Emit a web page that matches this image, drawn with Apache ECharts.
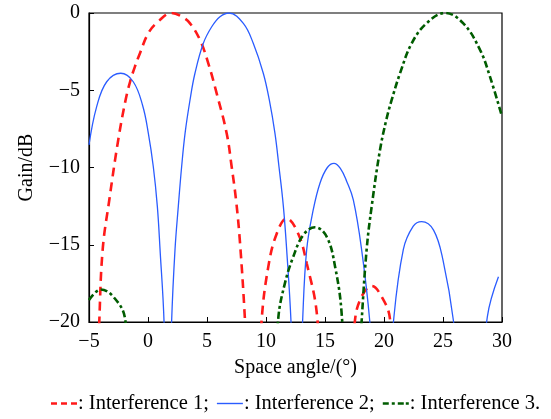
<!DOCTYPE html>
<html>
<head>
<meta charset="utf-8">
<script src="https://cdn.jsdelivr.net/npm/echarts@6/dist/echarts.min.js"></script>
<style>
  html, body { margin: 0; padding: 0; background: #fff; }
  #chart { width: 551px; height: 419px; }
</style>
</head>
<body>
<div id="chart"></div>
<script>
// [space angle (deg), gain (dB)]; values below -20 are clipped by the axis
const interference1 = [
  [-4.5, -28], [-4.13, -20], [-3.84, -15.3], [-3.28, -12.1], [-2.52, -8.2],
  [-1.89, -5.6], [-1.5, -4.4], [-1.1, -3.45], [-0.68, -2.6], [0.03, -1.3],
  [0.87, -0.55], [2.0, 0], [2.9, -0.25], [3.56, -0.67], [4.41, -1.75],
  [5.11, -3.26], [5.82, -5.2], [6.67, -7.8], [7.09, -9.95], [7.46, -12.1],
  [7.8, -14.9], [8.22, -19.9], [8.9, -30], [9.63, -19.9], [10.2, -16.4],
  [10.9, -14.3], [11.75, -13.3], [12.74, -14.3], [13.45, -16.2], [14.3, -19.4],
  [14.8, -26], [16.0, -35], [17.0, -26], [17.54, -19.9], [18.1, -18.36],
  [18.96, -17.67], [19.8, -18.36], [20.5, -19.76], [21.0, -26]
];
const interference2 = [
  [-5, -8.54], [-4.35, -6.06], [-3.5, -4.45], [-2.31, -3.9], [-1.25, -4.45],
  [-0.45, -6.0], [0.03, -7.79], [0.45, -9.95], [0.79, -12.5], [1.02, -15.3],
  [1.36, -20], [1.65, -30], [2.0, -20], [2.29, -15.3], [2.57, -12.5], [2.85, -9.95],
  [3.14, -7.79], [3.56, -5.63], [3.98, -3.9], [4.69, -1.96], [5.4, -0.89],
  [6.1, -0.24], [6.86, 0], [8.08, -0.67], [8.92, -1.96], [9.77, -3.9],
  [10.28, -5.63], [10.76, -7.79], [11.1, -9.95], [11.47, -12.5], [11.75, -15.3],
  [12.12, -20], [12.6, -30], [13.1, -20], [13.45, -15.3], [14.0, -12.75],
  [14.58, -11.0], [15.2, -10.0], [15.76, -9.73], [16.3, -10.05], [16.84, -10.9],
  [17.4, -12.1], [18.1, -15.3],
  [18.8, -20], [19.8, -30], [20.8, -20], [21.64, -15.3], [22.48, -13.8],
  [23.19, -13.5], [24.2, -14.05], [25.0, -16.0], [25.9, -20], [27.3, -30],
  [28.76, -19.65], [29.7, -17.07]
];
const interference3 = [
  [-5, -18.58], [-4.0, -17.9], [-2.94, -18.36], [-1.95, -19.76], [-1.4, -26],
  [4.5, '-'],
  [10.6, -26], [11.04, -19.76], [11.6, -17.5], [12.3, -15.8], [13.16, -14.37],
  [14.15, -13.87], [15.14, -14.48], [15.85, -16.4], [16.41, -19.44], [16.8, -26],
  [17.3, -30], [18.1, -20], [18.53, -15.3], [18.96, -12.5], [19.66, -8.87],
  [20.2, -6.9], [20.65, -5.63], [21.36, -3.9], [22.35, -1.96], [23.6, -0.67],
  [25.17, 0], [26.72, -0.67], [28.14, -2.39], [28.98, -4.12], [30, -6.7]
];
const seriesNames = ["Interference 1", "Interference 2", "Interference 3"];

const font = "'Times New Roman', 'Liberation Serif', serif";
const minus = (v) => String(v).replace("-", "\u2212");

// legend icons drawn as filled dash shapes (dashed / solid / dash-dot)
const icons = [
  "path://M0,0h6v2.4h-6zM10,0h6v2.4h-6zM20,0h6v2.4h-6z",
  "path://M0,0h26v1.4h-26z",
  "path://M0,0h6v2.4h-6zM9,0h3v2.4h-3zM15,0h6v2.4h-6zM23,0h3v2.4h-3z"
];

let chart = echarts.init(document.getElementById("chart"));
let option = {
  animation: false,
  textStyle: { fontFamily: font, color: "#000" },
  grid: {
    left: 89, top: 13, width: 413, height: 309,
    show: true, borderColor: "#000", borderWidth: 1.2
  },
  legend: {
    bottom: 0, left: 46,
    itemWidth: 26, itemHeight: 2.4, itemGap: 8,
    textStyle: { fontFamily: font, fontSize: 20.5, color: "#000", padding: [0, 0, 0, -4] },
    formatter: (name) => ": " + name + (name === "Interference 3" ? "." : ";"),
    data: seriesNames.map((n, i) => ({ name: n, icon: icons[i] }))
  },
  xAxis: {
    type: "value", min: -5, max: 30, interval: 5,
    name: "Space angle/(\u00b0)", nameLocation: "middle", nameGap: 36,
    nameTextStyle: { fontFamily: font, fontSize: 20, color: "#000" },
    axisLine: { onZero: false, lineStyle: { color: "#000", width: 1.2 } },
    axisTick: { inside: true, length: 5, lineStyle: { color: "#000" } },
    axisLabel: { fontFamily: font, fontSize: 20, color: "#000", margin: 10, formatter: minus },
    splitLine: { show: false }
  },
  yAxis: {
    type: "value", min: -20, max: 0, interval: 5,
    name: "Gain/dB", nameLocation: "middle", nameGap: 52,
    nameTextStyle: { fontFamily: font, fontSize: 20, color: "#000" },
    axisLine: { onZero: false, lineStyle: { color: "#000", width: 1.2 } },
    axisTick: { inside: true, length: 5, lineStyle: { color: "#000" } },
    axisLabel: { fontFamily: font, fontSize: 20, color: "#000", margin: 9, formatter: minus },
    splitLine: { show: false }
  },
  series: [
    {
      name: seriesNames[0], type: "line", data: interference1,
      smooth: 0.4, showSymbol: false, symbol: "none", clip: true,
      lineStyle: { color: "#ff1a1a", width: 2.6, type: [9, 6] },
      itemStyle: { color: "#ff1a1a" }
    },
    {
      name: seriesNames[1], type: "line", data: interference2,
      smooth: 0.4, showSymbol: false, symbol: "none", clip: true,
      lineStyle: { color: "#2a5cff", width: 1.3, type: "solid" },
      itemStyle: { color: "#2a5cff" }
    },
    {
      name: seriesNames[2], type: "line", data: interference3,
      smooth: 0.4, showSymbol: false, symbol: "none", clip: true, connectNulls: false,
      lineStyle: { color: "#005c00", width: 2.6, type: [7, 3, 3, 3] },
      itemStyle: { color: "#005c00" }
    }
  ]
};
chart.setOption(option);
window.addEventListener("resize", () => {
  chart.resize();
});
</script>
</body>
</html>
